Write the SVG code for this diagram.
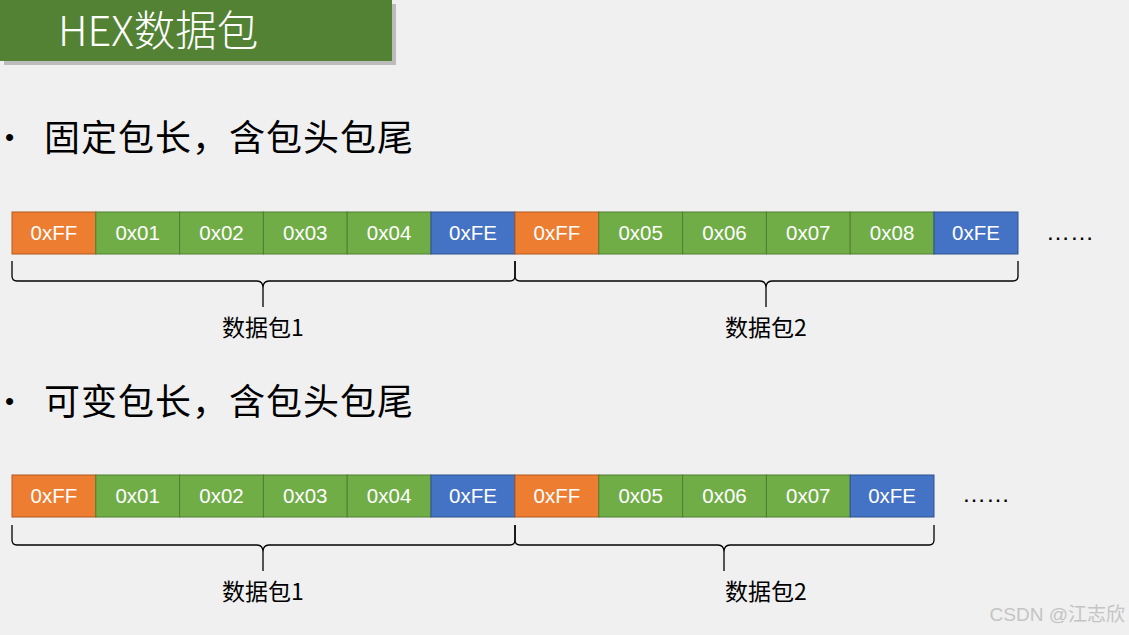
<svg xmlns="http://www.w3.org/2000/svg" width="1129" height="635" viewBox="0 0 1129 635">
<style>
.cell{stroke-width:1}
.o{fill:#ED7D31;stroke:#B3591C}
.g{fill:#70AD47;stroke:#507E32}
.b{fill:#4472C4;stroke:#2F528F}
.ct{font-family:"Liberation Sans","Noto Sans CJK SC",sans-serif;font-size:20.5px;fill:#fff;text-anchor:middle}
.brace{fill:none;stroke:#000;stroke-width:1.3}
.lbl{font-family:"Noto Sans CJK SC",sans-serif;font-size:23px;fill:#000;text-anchor:middle}
.bul{font-family:"Noto Sans CJK SC",sans-serif;font-size:36px;fill:#000}
.dot{font-family:"Liberation Sans",sans-serif;font-size:26px;fill:#000}
.dots{font-family:"Liberation Sans",sans-serif;font-size:24px;fill:#000}
</style>
<rect width="1129" height="635" fill="#F0F0F0"/>
<g id="header">
<rect x="4" y="4" width="392" height="61" fill="#9a9a9a" opacity="0.6"/>
<rect x="0" y="0" width="392" height="61" fill="#548235"/>
<text x="58" y="46" font-family="'Noto Sans CJK SC',sans-serif" font-weight="300" font-size="41.5" fill="#fff">HEX数据包</text>
</g>
<g id="bullet1">
<text x="5" y="146" class="dot">•</text>
<text x="44" y="151" class="bul" textLength="369" lengthAdjust="spacing">固定包长，含包头包尾</text>
</g>
<g id="bullet2">
<text x="5" y="410" class="dot">•</text>
<text x="44" y="415" class="bul" textLength="369" lengthAdjust="spacing">可变包长，含包头包尾</text>
</g>
<g id="row1">
<rect class="cell o" x="12" y="212" width="83.8" height="42"/><text class="ct" x="53.9" y="240">0xFF</text>
<rect class="cell g" x="95.8" y="212" width="83.8" height="42"/><text class="ct" x="137.7" y="240">0x01</text>
<rect class="cell g" x="179.6" y="212" width="83.8" height="42"/><text class="ct" x="221.5" y="240">0x02</text>
<rect class="cell g" x="263.4" y="212" width="83.8" height="42"/><text class="ct" x="305.3" y="240">0x03</text>
<rect class="cell g" x="347.2" y="212" width="83.8" height="42"/><text class="ct" x="389.1" y="240">0x04</text>
<rect class="cell b" x="431" y="212" width="84" height="42"/><text class="ct" x="473" y="240">0xFE</text>
<rect class="cell o" x="515" y="212" width="83.8" height="42"/><text class="ct" x="556.9" y="240">0xFF</text>
<rect class="cell g" x="598.8" y="212" width="83.8" height="42"/><text class="ct" x="640.7" y="240">0x05</text>
<rect class="cell g" x="682.6" y="212" width="83.8" height="42"/><text class="ct" x="724.5" y="240">0x06</text>
<rect class="cell g" x="766.4" y="212" width="83.8" height="42"/><text class="ct" x="808.3" y="240">0x07</text>
<rect class="cell g" x="850.2" y="212" width="83.8" height="42"/><text class="ct" x="892.1" y="240">0x08</text>
<rect class="cell b" x="934" y="212" width="84" height="42"/><text class="ct" x="976" y="240">0xFE</text>
<text class="dots" x="1046" y="240">……</text>
</g>
<g id="row2">
<rect class="cell o" x="12" y="475" width="83.8" height="42"/><text class="ct" x="53.9" y="503">0xFF</text>
<rect class="cell g" x="95.8" y="475" width="83.8" height="42"/><text class="ct" x="137.7" y="503">0x01</text>
<rect class="cell g" x="179.6" y="475" width="83.8" height="42"/><text class="ct" x="221.5" y="503">0x02</text>
<rect class="cell g" x="263.4" y="475" width="83.8" height="42"/><text class="ct" x="305.3" y="503">0x03</text>
<rect class="cell g" x="347.2" y="475" width="83.8" height="42"/><text class="ct" x="389.1" y="503">0x04</text>
<rect class="cell b" x="431" y="475" width="84" height="42"/><text class="ct" x="473" y="503">0xFE</text>
<rect class="cell o" x="515" y="475" width="83.8" height="42"/><text class="ct" x="556.9" y="503">0xFF</text>
<rect class="cell g" x="598.8" y="475" width="83.8" height="42"/><text class="ct" x="640.7" y="503">0x05</text>
<rect class="cell g" x="682.6" y="475" width="83.8" height="42"/><text class="ct" x="724.5" y="503">0x06</text>
<rect class="cell g" x="766.4" y="475" width="83.8" height="42"/><text class="ct" x="808.3" y="503">0x07</text>
<rect class="cell b" x="850.2" y="475" width="83.8" height="42"/><text class="ct" x="892.1" y="503">0xFE</text>
<text class="dots" x="962" y="502">……</text>
</g>
<g id="connectors">
<path class="brace" d="M12,261 V276 Q12,281 17,281 H257 Q263,281 263,288 Q263,281 269,281 H510 Q515,281 515,276 V261 M263,288 V307"/>
<path class="brace" d="M515,261 V276 Q515,281 520,281 H760 Q766,281 766,288 Q766,281 772,281 H1013 Q1018,281 1018,276 V261 M766,288 V307"/>
<path class="brace" d="M12,525 V540 Q12,545 17,545 H257 Q263,545 263,552 Q263,545 269,545 H510 Q515,545 515,540 V525 M263,552 V571"/>
<path class="brace" d="M515,525 V540 Q515,545 520,545 H718 Q724,545 724,552 Q724,545 730,545 H929 Q934,545 934,540 V525 M724,552 V571"/>
</g>
<g id="label1"><text class="lbl" x="263" y="336">数据包1</text></g>
<g id="label2"><text class="lbl" x="766" y="336">数据包2</text></g>
<g id="label3"><text class="lbl" x="263" y="600">数据包1</text></g>
<g id="label4"><text class="lbl" x="766" y="600">数据包2</text></g>
<g id="watermark"><text x="1125" y="621" text-anchor="end" font-family="'Liberation Sans','Noto Sans CJK SC',sans-serif" font-size="19" fill="#c4c4c4">CSDN @江志欣</text></g>
</svg>
